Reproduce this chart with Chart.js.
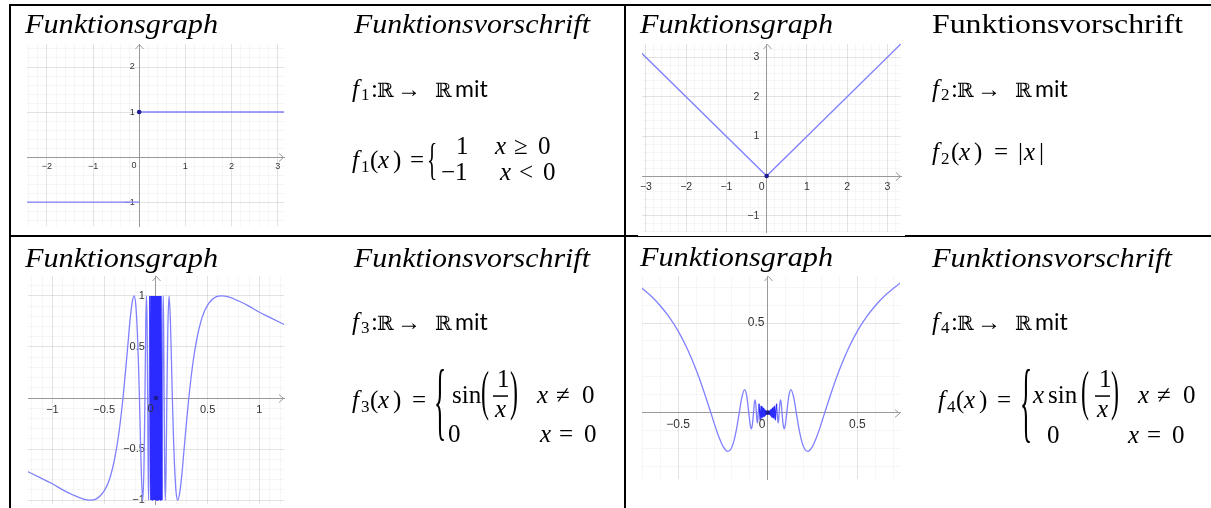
<!DOCTYPE html>
<html lang="de">
<head>
<meta charset="utf-8">
<title>Funktionsgraphen</title>
<script src="https://cdn.jsdelivr.net/npm/chart.js@4.4.1/dist/chart.umd.min.js"></script>
<style>
  html, body { margin: 0; padding: 0; background: #fff; }
  #page { position: relative; width: 1211px; height: 508px; overflow: hidden; }
  #page svg { position: absolute; left: 0; top: 0; }
  #lines { z-index: 0; }
  #texts { z-index: 2; pointer-events: none; }
  .graph { position: absolute; background: #fff; z-index: 1; }
  .title { font-family: "Liberation Serif"; font-style: italic; font-size: 28px; }
  .up { font-style: normal; }
  .m { font-family: "Liberation Serif"; font-size: 25px; }
  .mi { font-style: italic; }
  .sub { font-size: 17px; }
  .bb { font-family: "DejaVu Serif"; font-size: 20px; }
  .arr { font-family: "Liberation Serif"; font-size: 24px; }
  .mit { font-family: Lato; font-size: 23px; }
</style>
</head>
<body>
<div id="page">
  <!-- table rules -->
  <svg id="lines" width="1211" height="508">
    <rect x="9" y="4" width="1202" height="2" fill="#000"/>
    <rect x="9" y="4" width="2" height="504" fill="#000"/>
    <rect x="624" y="4" width="2" height="504" fill="#000"/>
    <rect x="9" y="235" width="1202" height="2" fill="#000"/>
  </svg>

  <canvas id="g1" class="graph" width="265" height="190" style="left:23px;top:40px"></canvas>
  <canvas id="g2" class="graph" width="267" height="196" style="left:638px;top:40px"></canvas>
  <canvas id="g3" class="graph" width="264" height="236" style="left:24px;top:272px"></canvas>
  <canvas id="g4" class="graph" width="266" height="211" style="left:638px;top:272px"></canvas>

  <svg id="texts" width="1211" height="508">
    <!-- headings -->
    <text class="title" x="25" y="33" textLength="193" lengthAdjust="spacingAndGlyphs">Funktionsgraph</text>
    <text class="title" x="354" y="33" textLength="236" lengthAdjust="spacingAndGlyphs">Funktionsvorschrift</text>
    <text class="title" x="640" y="33" textLength="193" lengthAdjust="spacingAndGlyphs">Funktionsgraph</text>
    <text class="title up" x="932" y="33" textLength="251" lengthAdjust="spacingAndGlyphs">Funktionsvorschrift</text>
    <text class="title" x="25" y="267" textLength="193" lengthAdjust="spacingAndGlyphs">Funktionsgraph</text>
    <text class="title" x="354" y="267" textLength="236" lengthAdjust="spacingAndGlyphs">Funktionsvorschrift</text>
    <text class="title" x="640" y="266" textLength="193" lengthAdjust="spacingAndGlyphs">Funktionsgraph</text>
    <text class="title" x="932" y="267" textLength="240" lengthAdjust="spacingAndGlyphs">Funktionsvorschrift</text>

    <!-- f: R -> R mit -->
    <g transform="translate(352,97)">
      <text class="m"><tspan class="mi" x="0" y="0">f</tspan><tspan class="sub" x="9" y="3">1</tspan><tspan x="19" y="0">:</tspan><tspan class="bb" x="25" y="0">ℝ</tspan><tspan class="arr" x="45" y="0">→</tspan><tspan class="bb" x="83" y="0">ℝ</tspan><tspan class="mit" x="103" y="0">mit</tspan></text>
    </g>
    <g transform="translate(932,97)">
      <text class="m"><tspan class="mi" x="0" y="0">f</tspan><tspan class="sub" x="9" y="3">2</tspan><tspan x="19" y="0">:</tspan><tspan class="bb" x="25" y="0">ℝ</tspan><tspan class="arr" x="45" y="0">→</tspan><tspan class="bb" x="83" y="0">ℝ</tspan><tspan class="mit" x="103" y="0">mit</tspan></text>
    </g>
    <g transform="translate(352,330)">
      <text class="m"><tspan class="mi" x="0" y="0">f</tspan><tspan class="sub" x="9" y="3">3</tspan><tspan x="19" y="0">:</tspan><tspan class="bb" x="25" y="0">ℝ</tspan><tspan class="arr" x="45" y="0">→</tspan><tspan class="bb" x="83" y="0">ℝ</tspan><tspan class="mit" x="103" y="0">mit</tspan></text>
    </g>
    <g transform="translate(932,330)">
      <text class="m"><tspan class="mi" x="0" y="0">f</tspan><tspan class="sub" x="9" y="3">4</tspan><tspan x="19" y="0">:</tspan><tspan class="bb" x="25" y="0">ℝ</tspan><tspan class="arr" x="45" y="0">→</tspan><tspan class="bb" x="83" y="0">ℝ</tspan><tspan class="mit" x="103" y="0">mit</tspan></text>
    </g>

    <!-- f1(x) = { 1 / -1 } -->
    <text class="m"><tspan class="mi" x="352" y="168">f</tspan><tspan class="sub" x="361" y="172">1</tspan><tspan x="370" y="168">(</tspan><tspan class="mi" x="378" y="168">x</tspan><tspan x="393" y="168">)</tspan><tspan x="410" y="168">=</tspan></text>
    <text class="m" style="font-size:25px" transform="translate(427,162.5) scale(0.85,1.8)" x="0" y="6.25">{</text>
    <text class="m"><tspan x="456" y="154">1</tspan><tspan class="mi" x="495" y="154">x</tspan><tspan x="514" y="154">≥</tspan><tspan x="538" y="154">0</tspan></text>
    <text class="m"><tspan x="441" y="180">−1</tspan><tspan class="mi" x="500" y="180">x</tspan><tspan x="519" y="180">&lt;</tspan><tspan x="543" y="180">0</tspan></text>

    <!-- f2(x) = |x| -->
    <text class="m"><tspan class="mi" x="932" y="160">f</tspan><tspan class="sub" x="941" y="164">2</tspan><tspan x="951" y="160">(</tspan><tspan class="mi" x="959" y="160">x</tspan><tspan x="974" y="160">)</tspan><tspan x="994" y="160">=</tspan><tspan x="1018" y="160">|</tspan><tspan class="mi" x="1024" y="160">x</tspan><tspan x="1039" y="160">|</tspan></text>

    <!-- f3(x) = { sin(1/x) / 0 } -->
    <text class="m"><tspan class="mi" x="352" y="408">f</tspan><tspan class="sub" x="361" y="412">3</tspan><tspan x="370" y="408">(</tspan><tspan class="mi" x="378" y="408">x</tspan><tspan x="393" y="408">)</tspan><tspan x="412" y="408">=</tspan></text>
    <text class="m" style="font-size:36px" transform="translate(434,407.5) scale(0.7,2.41)" x="0" y="9">{</text>
    <text class="m"><tspan x="452" y="403">sin</tspan></text>
    <text class="m" style="font-size:30px" transform="translate(481,395) scale(0.8,1.8)" x="0" y="7.5">(</text>
    <text class="m"><tspan x="497" y="387">1</tspan><tspan class="mi" x="495" y="417">x</tspan></text>
    <rect x="493" y="395.3" width="15" height="1.5" fill="#000"/>
    <text class="m" style="font-size:30px" transform="translate(510,395) scale(0.8,1.8)" x="0" y="7.5">)</text>
    <text class="m"><tspan class="mi" x="537" y="403">x</tspan><tspan x="556" y="403">≠</tspan><tspan x="582" y="403">0</tspan></text>
    <text class="m"><tspan x="448" y="442">0</tspan><tspan class="mi" x="540" y="442">x</tspan><tspan x="559" y="442">=</tspan><tspan x="584" y="442">0</tspan></text>

    <!-- f4(x) = { x sin(1/x) / 0 } -->
    <text class="m"><tspan class="mi" x="938" y="408">f</tspan><tspan class="sub" x="947" y="412">4</tspan><tspan x="956" y="408">(</tspan><tspan class="mi" x="964" y="408">x</tspan><tspan x="979" y="408">)</tspan><tspan x="997" y="408">=</tspan></text>
    <text class="m" style="font-size:36px" transform="translate(1020,408.5) scale(0.7,2.48)" x="0" y="9">{</text>
    <text class="m"><tspan class="mi" x="1033" y="403">x</tspan><tspan x="1048" y="403">sin</tspan></text>
    <text class="m" style="font-size:30px" transform="translate(1081,395) scale(0.8,1.8)" x="0" y="7.5">(</text>
    <text class="m"><tspan x="1099" y="387">1</tspan><tspan class="mi" x="1097" y="417">x</tspan></text>
    <rect x="1095" y="395.3" width="15" height="1.5" fill="#000"/>
    <text class="m" style="font-size:30px" transform="translate(1111,395) scale(0.8,1.8)" x="0" y="7.5">)</text>
    <text class="m"><tspan class="mi" x="1138" y="403">x</tspan><tspan x="1157" y="403">≠</tspan><tspan x="1183" y="403">0</tspan></text>
    <text class="m"><tspan x="1047" y="443">0</tspan><tspan class="mi" x="1128" y="443">x</tspan><tspan x="1147" y="443">=</tspan><tspan x="1172" y="443">0</tspan></text>
  </svg>
</div>

<script>
// ---- f1: step function ----
var f1UpperX = [0, 3.3];
var f1UpperY = [1, 1];
var f1LowerX = [-2.6, 0];
var f1LowerY = [-1, -1];
var f1DotX = [0];
var f1DotY = [1];

// ---- f2: absolute value ----
var f2X = [-3.3, 0, 3.5];
var f2Y = [3.3, 0, 3.5];
var f2DotX = [0];
var f2DotY = [0];

// ---- f3: sin(1/x), outer branches ----
var f3LeftX = [-1.26, -1.1, -1.0, -0.9, -0.8, -0.7, -0.637, -0.58, -0.5, -0.45, -0.4, -0.36, -0.318,
  -0.29, -0.27, -0.25, -0.23, -0.212, -0.195, -0.18, -0.17, -0.159, -0.15, -0.14, -0.127, -0.115,
  -0.106, -0.098, -0.0909, -0.085, -0.0796, -0.075, -0.0707, -0.067, -0.0637, -0.0605, -0.0579];
var f3LeftY = [-0.71, -0.79, -0.84, -0.9, -0.95, -0.99, -1, -0.99, -0.91, -0.8, -0.6, -0.36, 0,
  0.3, 0.53, 0.76, 0.93, 1, 0.92, 0.66, 0.39, 0, -0.38, -0.76, -1, -0.66,
  0, 0.71, 1, 0.71, 0, -0.69, -1, -0.71, 0, 0.73, 1];
var f3RightX = [0.0579, 0.0605, 0.0637, 0.067, 0.0707, 0.075, 0.0796, 0.085, 0.0909, 0.098, 0.106,
  0.115, 0.127, 0.14, 0.15, 0.159, 0.17, 0.18, 0.195, 0.212, 0.23, 0.25, 0.27, 0.29, 0.318, 0.36,
  0.4, 0.45, 0.5, 0.58, 0.637, 0.7, 0.8, 0.9, 1.0, 1.1, 1.26];
var f3RightY = [-1, -0.73, 0, 0.71, 1, 0.69, 0, -0.71, -1, -0.71, 0,
  0.66, 1, 0.76, 0.38, 0, -0.39, -0.66, -0.92, -1, -0.93, -0.76, -0.53, -0.3, 0, 0.36,
  0.6, 0.8, 0.91, 0.99, 1, 0.99, 0.95, 0.9, 0.84, 0.79, 0.71];
// dense oscillation around x = 0
var f3CoreX = [-0.0579, -0.049, -0.0424, -0.0374, -0.0335, -0.0303, -0.0277, -0.0255, -0.0236, -0.022,
  -0.0205, -0.0193, -0.0182, -0.0172, -0.0163, -0.0155, -0.0148, -0.0141, -0.0135, -0.013, -0.0118,
  -0.0102, -0.0085, -0.0068, -0.005, -0.0032, -0.0015, 0.0015, 0.0032, 0.005, 0.0068, 0.0085, 0.0102,
  0.0118, 0.013, 0.0135, 0.0141, 0.0148, 0.0155, 0.0163, 0.0172, 0.0182, 0.0193, 0.0205, 0.022,
  0.0236, 0.0255, 0.0277, 0.0303, 0.0335, 0.0374, 0.0424, 0.049, 0.0579];
var f3CoreY = [1, -1, 1, -1, 1, -1, 1, -1, 1, -1,
  1, -1, 1, -1, 1, -1, 1, -1, 1, -1, 1,
  -1, 1, -1, 1, -1, 1, -1, 1, -1, 1, -1, 1,
  -1, 1, -1, 1, -1, 1, -1, 1, -1, 1, -1, 1,
  -1, 1, -1, 1, -1, 1, -1, 1, -1];
var f3DotX = [0];
var f3DotY = [0];

// ---- f4: x*sin(1/x) ----
var f4LeftX = [-0.76, -0.7, -0.65, -0.6, -0.55, -0.5, -0.45, -0.4, -0.36, -0.318, -0.29, -0.27, -0.25,
  -0.2226, -0.205, -0.19, -0.175, -0.159, -0.145, -0.1294, -0.118, -0.106, -0.098, -0.0917, -0.085,
  -0.0796, -0.075, -0.0711, -0.067, -0.0637, -0.0605, -0.058, -0.0555, -0.0531, -0.049];
var f4LeftY = [0.74, 0.693, 0.65, 0.597, 0.533, 0.455, 0.358, 0.239, 0.128, 0, -0.088, -0.143, -0.189,
  -0.217, -0.202, -0.162, -0.095, 0, 0.083, 0.128, 0.096, 0, -0.069, -0.091, -0.06,
  0, 0.052, 0.071, 0.048, 0, -0.044, -0.058, -0.041, 0, 0.049];
var f4RightX = [0.049, 0.0531, 0.0555, 0.058, 0.0605, 0.0637, 0.067, 0.0711, 0.075, 0.0796, 0.085,
  0.0917, 0.098, 0.106, 0.118, 0.1294, 0.145, 0.159, 0.175, 0.19, 0.205, 0.2226, 0.25, 0.27, 0.29,
  0.318, 0.36, 0.4, 0.45, 0.5, 0.55, 0.6, 0.65, 0.7, 0.76];
var f4RightY = [0.049, 0, -0.041, -0.058, -0.044, 0, 0.048, 0.071, 0.052, 0, -0.06,
  -0.091, -0.069, 0, 0.096, 0.128, 0.083, 0, -0.095, -0.162, -0.202, -0.217, -0.189, -0.143, -0.088,
  0, 0.128, 0.239, 0.358, 0.455, 0.533, 0.597, 0.65, 0.693, 0.74];
var f4CoreX = [-0.049, -0.0424, -0.0374, -0.0335, -0.0303, -0.0277, -0.0255, -0.0236, -0.022, -0.0205,
  -0.0193, -0.0182, -0.0172, -0.0163, -0.0155, -0.0148, -0.0141, -0.0135, -0.013, -0.0118, -0.0102,
  -0.0085, -0.0068, -0.005, -0.0032, -0.0015, 0.0015, 0.0032, 0.005, 0.0068, 0.0085, 0.0102, 0.0118,
  0.013, 0.0135, 0.0141, 0.0148, 0.0155, 0.0163, 0.0172, 0.0182, 0.0193, 0.0205, 0.022, 0.0236,
  0.0255, 0.0277, 0.0303, 0.0335, 0.0374, 0.0424, 0.049];
var f4CoreY = [0.049, -0.0424, 0.0374, -0.0335, 0.0303, -0.0277, 0.0255, -0.0236, 0.022, -0.0205,
  0.0193, -0.0182, 0.0172, -0.0163, 0.0155, -0.0148, 0.0141, -0.0135, 0.013, -0.0118, 0.0102,
  -0.0085, 0.0068, -0.005, 0.0032, -0.0015, -0.0015, 0.0032, -0.005, 0.0068, -0.0085, 0.0102, -0.0118,
  0.013, -0.0135, 0.0141, -0.0148, 0.0155, -0.0163, 0.0172, -0.0182, 0.0193, -0.0205, 0.022, -0.0236,
  0.0255, -0.0277, 0.0303, -0.0335, 0.0374, -0.0424, 0.049];
var f4DotX = [0];
var f4DotY = [0];

// labelled tick values on each axis
var g1XLabels = [-2, -1, 1, 2, 3];
var g1YLabels = [-1, 1, 2];
var g2XLabels = [-3, -2, -1, 1, 2, 3];
var g2YLabels = [-1, 1, 2, 3];
var g3XLabels = [-1, -0.5, 0.5, 1];
var g3YLabels = [-1, -0.5, 0.5, 1];
var g4XLabels = [-0.5, 0.5];
var g4YLabels = [0.5];

var LINE = '#8080ff';
var CORE = '#2b2bff';
var DOT = '#1c1c90';
var AXIS = '#9a9a9a';
var MAJOR = 'rgba(0,0,0,0.11)';
var MINOR = 'rgba(0,0,0,0.035)';
var TICK_TEXT = '#333';

function pts(xs, ys) {
  return xs.map(function (x, i) { return { x: x, y: ys[i] }; });
}

function fmt(v) {
  return String(v).replace('-', '\u2212');
}

// every grid line between min and max (minor spacing)
function gridTicks(min, max, step) {
  var out = [];
  for (var k = Math.ceil(min / step); k * step <= max + 1e-9; k++) {
    out.push({ value: Math.round(k * step * 1000) / 1000 });
  }
  return out;
}

function curve(xs, ys, color, width, smooth) {
  return {
    data: pts(xs, ys),
    showLine: true,
    borderColor: color,
    borderWidth: width,
    borderJoinStyle: 'bevel',
    pointRadius: 0,
    tension: 0,
    cubicInterpolationMode: smooth ? 'monotone' : 'default',
    clip: 0
  };
}

function dot(xs, ys) {
  return {
    data: pts(xs, ys),
    showLine: false,
    pointRadius: 2.3,
    pointBackgroundColor: DOT,
    pointBorderWidth: 0,
    clip: 0
  };
}

// axis arrow heads and the "0" at the origin
var axisDecor = {
  id: 'axisDecor',
  afterDraw: function (chart, args, opts) {
    var ctx = chart.ctx;
    var a = chart.chartArea;
    var x0 = Math.round(chart.scales.x.getPixelForValue(0)) + 0.5;
    var y0 = Math.round(chart.scales.y.getPixelForValue(0)) + 0.5;
    ctx.save();
    ctx.strokeStyle = AXIS;
    ctx.lineWidth = 1;
    ctx.beginPath();
    ctx.moveTo(a.right - 5, y0 - 4);
    ctx.lineTo(a.right - 0.5, y0);
    ctx.lineTo(a.right - 5, y0 + 4);
    ctx.moveTo(x0 - 4, a.top + 5);
    ctx.lineTo(x0, a.top + 0.5);
    ctx.lineTo(x0 + 4, a.top + 5);
    ctx.stroke();
    ctx.fillStyle = TICK_TEXT;
    ctx.font = opts.size + 'px "Liberation Sans"';
    ctx.textAlign = 'right';
    ctx.textBaseline = 'top';
    ctx.fillText('0', x0 - 3, y0 + opts.pad);
    ctx.restore();
  }
};

function graph(id, o) {
  function isMajor(v) {
    return Math.abs(v / o.major - Math.round(v / o.major)) < 1e-6;
  }
  function axis(min, max, labels, isY) {
    return {
      type: 'linear',
      position: isY ? { x: 0 } : { y: 0 },
      min: min,
      max: max,
      bounds: 'data',
      afterBuildTicks: function (s) { s.ticks = gridTicks(min, max, o.minor); },
      afterFit: function (s) {
        s.paddingLeft = 0; s.paddingRight = 0; s.paddingTop = 0; s.paddingBottom = 0;
      },
      border: { color: AXIS, width: 1 },
      grid: {
        drawTicks: false,
        lineWidth: 1,
        color: function (c) { return isMajor(c.tick.value) ? MAJOR : MINOR; }
      },
      ticks: {
        autoSkip: false,
        maxRotation: 0,
        minRotation: 0,
        padding: o.pad,
        color: TICK_TEXT,
        font: { family: 'Liberation Sans', size: o.size },
        callback: function (v) {
          if (labels.indexOf(v) < 0) return '';
          // y labels sit right-aligned on the axis; the trailing gap keeps them off it
          return isY ? fmt(v) + o.gap : fmt(v);
        }
      }
    };
  }
  return new Chart(document.getElementById(id), {
    type: 'scatter',
    data: { datasets: o.datasets },
    options: {
      responsive: false,
      animation: false,
      devicePixelRatio: 1,
      events: [],
      layout: { padding: 0 },
      plugins: {
        legend: { display: false },
        tooltip: { enabled: false },
        axisDecor: { size: o.size, pad: o.pad }
      },
      scales: {
        x: axis(o.xMin, o.xMax, o.xLabels, false),
        y: axis(o.yMin, o.yMax, o.yLabels, true)
      }
    },
    plugins: [axisDecor]
  });
}

graph('g1', {
  xMin: -2.43, xMax: 3.137, yMin: -1.532, yMax: 2.511,
  major: 1, minor: 0.2, size: 9, pad: 4, gap: '\u2002',
  xLabels: g1XLabels, yLabels: g1YLabels,
  datasets: [
    dot(f1DotX, f1DotY),
    curve(f1UpperX, f1UpperY, LINE, 1.3, false),
    curve(f1LowerX, f1LowerY, LINE, 1.3, false)
  ]
});

graph('g2', {
  xMin: -3.096, xMax: 3.337, yMin: -1.412, yMax: 3.334,
  major: 1, minor: 0.2, size: 10.5, pad: 5, gap: '\u2002\u2009',
  xLabels: g2XLabels, yLabels: g2YLabels,
  datasets: [
    dot(f2DotX, f2DotY),
    curve(f2X, f2Y, LINE, 1.4, false)
  ]
});

graph('g3', {
  xMin: -1.236, xMax: 1.238, yMin: -1.038, yMax: 1.195,
  major: 0.5, minor: 0.1, size: 11, pad: 5, gap: '\u2003',
  xLabels: g3XLabels, yLabels: g3YLabels,
  datasets: [
    dot(f3DotX, f3DotY),
    curve(f3CoreX, f3CoreY, CORE, 1.4, false),
    curve(f3LeftX, f3LeftY, LINE, 1.3, true),
    curve(f3RightX, f3RightY, LINE, 1.3, true)
  ]
});

graph('g4', {
  xMin: -0.702, xMax: 0.738, yMin: -0.371, yMax: 0.763,
  major: 0.5, minor: 0.1, size: 12, pad: 5, gap: ' ',
  xLabels: g4XLabels, yLabels: g4YLabels,
  datasets: [
    dot(f4DotX, f4DotY),
    curve(f4CoreX, f4CoreY, CORE, 1.2, false),
    curve(f4LeftX, f4LeftY, LINE, 1.3, true),
    curve(f4RightX, f4RightY, LINE, 1.3, true)
  ]
});
</script>
</body>
</html>
